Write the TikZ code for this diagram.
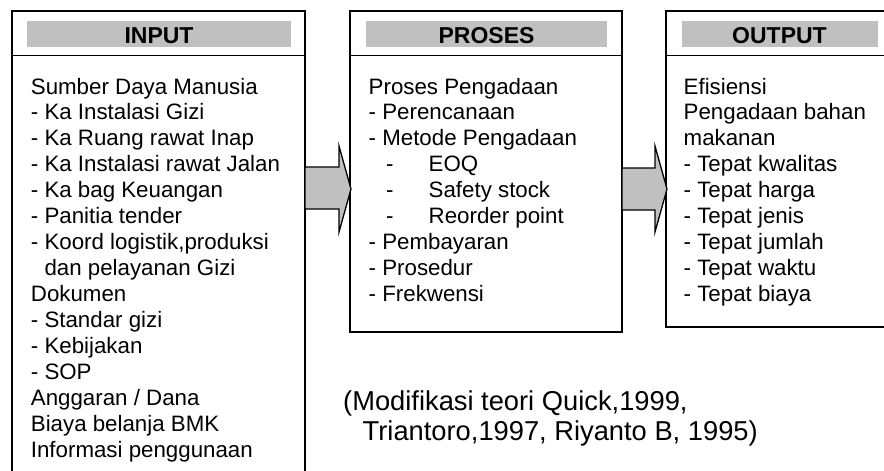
\documentclass[tikz,border=0pt]{standalone}
\usepackage{fontspec}
\setmainfont{Liberation Sans}
\definecolor{bargray}{HTML}{C0C0C0}
\tikzset{
  frame/.style={line width=1.4pt, draw=black},
  bar/.style={fill=bargray, draw=none},
  headtext/.style={font=\fontsize{23}{26}\selectfont\bfseries, anchor=base, inner sep=0pt},
  bodytext/.style={font=\fontsize{22.3}{26}\selectfont, anchor=base west, inner sep=0pt},
  citetext/.style={font=\fontsize{27.3}{30}\selectfont, anchor=base west, inner sep=0pt},
  flow/.style={fill=bargray, draw=black, line width=1.3pt, line join=miter},
}
\begin{document}
\begin{tikzpicture}[x=1pt, y=-1pt]
  \useasboundingbox (0,0) rectangle (884,471);
  \clip (0,0) rectangle (884,471);

  % column frames
  \draw[frame] (12,490) -- (12,11) -- (305,11) -- (305,490);
  \draw[frame] (12,55.7) -- (305,55.7);
  \draw[frame] (350,11) rectangle (622,332);
  \draw[frame] (350,55.7) -- (622,55.7);
  \draw[frame] (900,11) -- (666,11) -- (666,327) -- (900,327);
  \draw[frame] (666,55.7) -- (900,55.7);

  % header bars and titles
  \fill[bar] (27,21) rectangle (291,47);
  \fill[bar] (366,21) rectangle (607,47);
  \fill[bar] (682,21) rectangle (878,47);
  \node[headtext] (hin)  at (159,43)   {INPUT};
  \node[headtext] (hpr)  at (486.5,43) {PROSES};
  \node[headtext] (hout) at (779.5,43) {OUTPUT};

  % block arrows between the columns
  \coordinate (a1t) at (351,189);
  \coordinate (a2t) at (667,189);
  \draw[flow] (305,167) -- (339,167) -- (339,146) -- (a1t) -- (339,232)
              -- (339,209) -- (305,209) -- cycle;
  \draw[flow] (622,168) -- (655,168) -- (655,146) -- (a2t) -- (655,232)
              -- (655,210) -- (622,210) -- cycle;

  % INPUT list
  \foreach \t [count=\i] in {
      Sumber Daya Manusia,
      - Ka Instalasi Gizi,
      - Ka Ruang rawat Inap,
      - Ka Instalasi rawat Jalan,
      - Ka bag Keuangan,
      - Panitia tender,
      {- Koord logistik,produksi},
      \hphantom{- }dan pelayanan Gizi,
      Dokumen,
      - Standar gizi,
      - Kebijakan,
      - SOP,
      Anggaran / Dana,
      Biaya belanja BMK,
      Informasi penggunaan}
    \node[bodytext] (in\i) at ({30.7},{94+25.93*(\i-1)}) {\t};

  % PROSES list
  \foreach \t [count=\i] in {
      Proses Pengadaan,
      - Perencanaan,
      - Metode Pengadaan}
    \node[bodytext] (pr\i) at ({368.5},{94+25.93*(\i-1)}) {\t};
  \foreach \t [count=\i from 4] in {EOQ, Safety stock, Reorder point} {
    \node[bodytext] (prd\i) at ({386},{94+25.93*(\i-1)}) {-};
    \node[bodytext] (pr\i) at ({428.5},{94+25.93*(\i-1)}) {\t};
  }
  \foreach \t [count=\i from 7] in {
      - Pembayaran,
      - Prosedur,
      - Frekwensi}
    \node[bodytext] (pr\i) at ({368.5},{94+25.93*(\i-1)}) {\t};

  % OUTPUT list
  \foreach \t [count=\i] in {
      Efisiensi,
      Pengadaan bahan,
      makanan,
      - Tepat kwalitas,
      - Tepat harga,
      - Tepat jenis,
      - Tepat jumlah,
      - Tepat waktu,
      - Tepat biaya}
    \node[bodytext] (out\i) at ({683.5},{94+25.93*(\i-1)}) {\t};

  % source note
  \node[citetext] (src1) at (343,410) {(Modifikasi teori Quick,1999,};
  \node[citetext] (src2) at (362.5,440) {Triantoro,1997, Riyanto B, 1995)};
\end{tikzpicture}
\end{document}
